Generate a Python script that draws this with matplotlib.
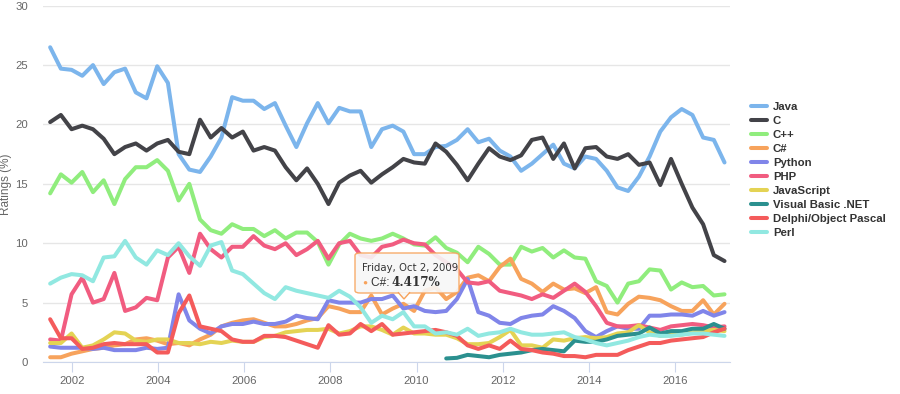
import numpy as np
import matplotlib.pyplot as plt
from matplotlib.patches import FancyBboxPatch, Polygon

plt.rcParams['font.family'] = ['Liberation Sans', 'DejaVu Sans']

# quarterly samples, Jul 2001 .. Feb 2017
quarters = np.arange(64)
years = 2001.5 + quarters * 0.2483

java = [26.5, 24.7, 24.6, 24.1, 25.0, 23.4, 24.4, 24.7, 22.7, 22.2, 24.9,
        23.5, 17.5, 16.2, 16.0, 17.3, 18.9, 22.3, 22.0, 22.0, 21.3, 21.8,
        19.9, 18.1, 20.1, 21.8, 20.1, 21.4, 21.1, 21.1, 18.1, 19.6,
        19.9, 19.4, 17.5, 17.5, 18.1, 18.2, 18.7, 19.6, 18.5, 18.8, 17.8,
        17.3, 16.1, 16.7, 17.5, 18.3, 16.7, 16.3, 17.3, 17.1, 16.1, 14.7,
        14.4, 15.6, 17.3, 19.4, 20.6, 21.3, 20.8, 18.9, 18.7, 16.8]
c_lang = [20.2, 20.8, 19.6, 19.9, 19.6, 18.8, 17.5, 18.1, 18.4, 17.8, 18.4,
          18.7, 17.7, 17.5, 20.4, 18.9, 19.7, 18.9, 19.4, 17.8, 18.1, 17.8,
          16.4, 15.3, 16.3, 15.0, 13.3, 15.1, 15.7, 16.1, 15.1, 15.8,
          16.4, 17.1, 16.8, 16.7, 18.4, 17.7, 16.6, 15.3, 16.7, 18.0, 17.3,
          17.0, 17.4, 18.7, 18.9, 17.1, 18.4, 16.3, 18.0, 18.1, 17.3, 17.1,
          17.5, 16.6, 16.8, 14.9, 17.1, 15.0, 13.0, 11.6, 9.0, 8.5]
cpp = [14.2, 15.8, 15.1, 16.0, 14.3, 15.3, 13.3, 15.4, 16.4, 16.4, 17.0,
       16.1, 13.6, 15.0, 12.0, 11.1, 10.8, 11.6, 11.2, 11.2, 10.6, 11.1,
       10.4, 10.9, 10.9, 10.1, 8.2, 9.9, 10.8, 10.4, 10.2, 10.4,
       10.8, 10.4, 9.9, 9.8, 10.5, 9.6, 9.2, 8.4, 9.7, 9.1, 8.2,
       8.2, 9.7, 9.3, 9.6, 8.8, 9.4, 8.8, 8.7, 6.8, 6.4, 5.0,
       6.6, 6.8, 7.8, 7.7, 6.1, 6.7, 6.3, 6.4, 5.6, 5.7]
csharp = [0.4, 0.4, 0.7, 0.9, 1.1, 1.2, 1.4, 1.5, 1.9, 2.0, 1.8,
          1.5, 1.6, 1.4, 1.9, 2.3, 3.0, 3.3, 3.5, 3.6, 3.3, 3.0,
          3.0, 3.2, 3.5, 3.7, 4.7, 4.5, 4.2, 4.2, 5.6, 4.0,
          4.5, 4.9, 4.3, 6.0, 6.3, 5.3, 5.9, 7.1, 7.3, 6.8, 8.0,
          8.7, 7.0, 6.6, 5.9, 6.6, 6.1, 6.2, 5.8, 6.3, 4.2, 4.0,
          4.9, 5.5, 5.4, 5.2, 4.7, 4.3, 4.3, 5.2, 4.0, 4.9]
python = [1.3, 1.2, 1.2, 1.2, 1.1, 1.2, 1.0, 1.0, 1.0, 1.2, 1.1,
          1.2, 5.7, 3.5, 2.8, 2.4, 3.0, 3.2, 3.2, 3.4, 3.2, 3.2,
          3.4, 3.9, 3.7, 3.6, 5.2, 5.0, 5.0, 5.0, 5.3, 5.3,
          5.6, 4.5, 4.7, 4.3, 4.2, 4.3, 5.3, 7.0, 4.2, 3.9, 3.3,
          3.2, 3.7, 3.9, 4.0, 4.7, 4.3, 3.7, 2.6, 2.1, 2.6, 3.0,
          2.8, 2.8, 3.9, 3.9, 4.0, 4.0, 3.9, 4.3, 3.9, 4.2]
php = [1.9, 1.8, 5.7, 7.1, 5.0, 5.3, 7.5, 4.3, 4.6, 5.4, 5.2,
       8.8, 9.7, 7.5, 10.8, 9.5, 8.8, 9.7, 9.7, 10.6, 9.8, 9.5,
       10.0, 9.0, 9.5, 10.2, 8.7, 10.0, 10.2, 9.0, 8.8, 9.7,
       9.9, 10.3, 10.0, 9.9, 9.0, 8.4, 7.8, 6.7, 6.6, 6.8, 6.0,
       5.8, 5.6, 5.3, 5.7, 5.4, 6.0, 6.6, 5.9, 4.7, 3.3, 3.0,
       3.0, 3.1, 2.9, 2.7, 3.0, 3.1, 3.2, 3.1, 2.9, 3.0]
javascript = [1.6, 1.6, 2.4, 1.2, 1.4, 1.9, 2.5, 2.4, 1.8, 1.7, 1.9,
              1.9, 1.6, 1.6, 1.5, 1.7, 1.6, 1.8, 1.7, 1.7, 2.1, 2.2,
              2.5, 2.6, 2.7, 2.7, 2.8, 2.4, 2.6, 3.0, 3.0, 2.7,
              2.3, 2.9, 2.4, 2.4, 2.3, 2.3, 2.0, 1.5, 1.5, 1.6, 2.1,
              2.7, 1.4, 1.4, 1.2, 1.9, 1.8, 2.0, 2.1, 2.0, 2.1, 2.4,
              2.5, 3.1, 2.5, 2.2, 2.3, 2.3, 2.5, 2.6, 2.7, 2.6]
nan = np.nan
vbnet = [nan] * 37 + [0.3, 0.35, 0.6, 0.5, 0.4, 0.6,
                      0.7, 0.8, 1.0, 1.1, 1.0, 0.9, 1.8, 1.7, 1.7, 1.9, 2.2,
                      2.3, 2.4, 2.9, 2.4, 2.6, 2.6, 2.8, 2.8, 3.2, 2.8]
delphi = [3.6, 2.0, 2.0, 1.1, 1.2, 1.5, 1.6, 1.5, 1.5, 1.5, 0.8,
          0.8, 4.1, 5.6, 3.0, 2.8, 2.6, 1.9, 1.7, 1.7, 2.2, 2.2,
          2.1, 1.8, 1.5, 1.2, 3.1, 2.3, 2.4, 3.2, 2.6, 3.2,
          2.3, 2.4, 2.5, 2.6, 2.7, 2.5, 2.2, 1.4, 1.1, 1.4, 1.1,
          1.8, 1.1, 1.0, 0.8, 0.7, 0.5, 0.5, 0.4, 0.6, 0.6, 0.6,
          1.0, 1.3, 1.6, 1.6, 1.8, 1.9, 2.0, 2.1, 2.5, 2.8]
perl = [6.6, 7.1, 7.4, 7.3, 6.8, 8.8, 8.9, 10.2, 8.8, 8.2, 9.4,
        9.0, 10.0, 8.9, 8.1, 9.8, 10.1, 7.7, 7.4, 6.6, 5.8, 5.3,
        6.3, 6.0, 5.8, 5.6, 5.4, 6.0, 5.5, 4.6, 3.3, 3.9,
        3.6, 4.2, 3.0, 3.0, 2.4, 2.5, 2.3, 2.8, 2.2, 2.4, 2.5,
        2.8, 2.5, 2.3, 2.3, 2.4, 2.5, 2.1, 1.9, 1.6, 1.4, 1.6,
        1.8, 2.1, 2.3, 2.2, 2.2, 2.3, 2.4, 2.4, 2.3, 2.2]

names = ['Java', 'C', 'C++', 'C#', 'Python', 'PHP', 'JavaScript',
         'Visual Basic .NET', 'Delphi/Object Pascal', 'Perl']
series = [java, c_lang, cpp, csharp, python, php, javascript, vbnet, delphi, perl]
colors = ['#7cb5ec', '#434348', '#90ed7d', '#f7a35c', '#8085e9',
          '#f15c80', '#e4d354', '#2b908f', '#f45b5b', '#91e8e1']

tick_years = [2002, 2004, 2006, 2008, 2010, 2012, 2014, 2016]
tip_year, tip_value = 2009.75, 4.417

W, H = 900, 394
fig = plt.figure(figsize=(9, 3.94), dpi=100)
ax = fig.add_axes([43 / W, 1 - 362 / H, (730 - 43) / W, (362 - 5.7) / H])

for name, vals, col in zip(names, series, colors):
    ax.plot(years, vals, color=col, lw=2.9, label=name,
            solid_joinstyle='round', solid_capstyle='round')

ax.set_xlim(2001.334, 2017.27)
ax.set_ylim(0, 30)
ax.set_yticks(range(0, 31, 5))
ax.set_xticks(tick_years)
ax.set_xticklabels([str(y) for y in tick_years])
ax.grid(axis='y', color='#e6e6e6', lw=1)
ax.set_axisbelow(True)
for s in ['top', 'right', 'left']:
    ax.spines[s].set_visible(False)
ax.spines['bottom'].set_color('#ccd6eb')
ax.tick_params(axis='y', length=0, labelsize=8.2, labelcolor='#666666', pad=10.8)
ax.tick_params(axis='x', length=7, color='#ccd6eb', labelsize=8.2,
               labelcolor='#666666', pad=3)
fig.text(6.5 / W, 1 - 184 / H, 'Ratings (%)', rotation=90, ha='center',
         va='center', color='#666666', fontsize=8.5)

leg = fig.legend(loc='upper left', bbox_to_anchor=(746 / W, 1 - 97 / H),
                 frameon=False, prop={'weight': 'bold', 'size': 8.2},
                 handlelength=1.45, handletextpad=0.5, labelspacing=0.36,
                 borderaxespad=0)
for t in leg.get_texts():
    t.set_color('#333333')

# tooltip
bx0, bx1, by0, by1 = 355, 459, 253, 293
box = FancyBboxPatch((bx0 / W, 1 - by1 / H), (bx1 - bx0) / W, (by1 - by0) / H,
                     boxstyle='round,pad=0,rounding_size=0.006',
                     transform=fig.transFigure, facecolor='#f7f7f7',
                     edgecolor='#f7a35c', lw=1, alpha=0.9, zorder=10)
fig.add_artist(box)
px = 404
tri = Polygon([((px - 6) / W, 1 - (by1 - 0.8) / H), (px / W, 1 - (by1 + 6) / H),
               ((px + 6) / W, 1 - (by1 - 0.8) / H)], closed=False,
              transform=fig.transFigure, facecolor='#f7f7f7',
              edgecolor='#f7a35c', lw=1, zorder=11)
fig.add_artist(tri)
fig.text(362 / W, 1 - 268 / H, 'Friday, Oct 2, 2009', fontsize=7.3,
         color='#333333', va='center', family='DejaVu Sans', zorder=12)
fig.text(362 / W, 1 - 283 / H, '\u25cf', fontsize=6, color='#f7a35c',
         va='center', zorder=12)
fig.text(371 / W, 1 - 283 / H, 'C#: ', fontsize=8.6, color='#333333',
         va='center', zorder=12)
fig.text(392 / W, 1 - 283 / H, '%.3f%%' % tip_value, fontsize=8.6,
         color='#333333', va='center', weight='bold', family='DejaVu Serif',
         zorder=12)

fig.savefig('out.png', dpi=100)
